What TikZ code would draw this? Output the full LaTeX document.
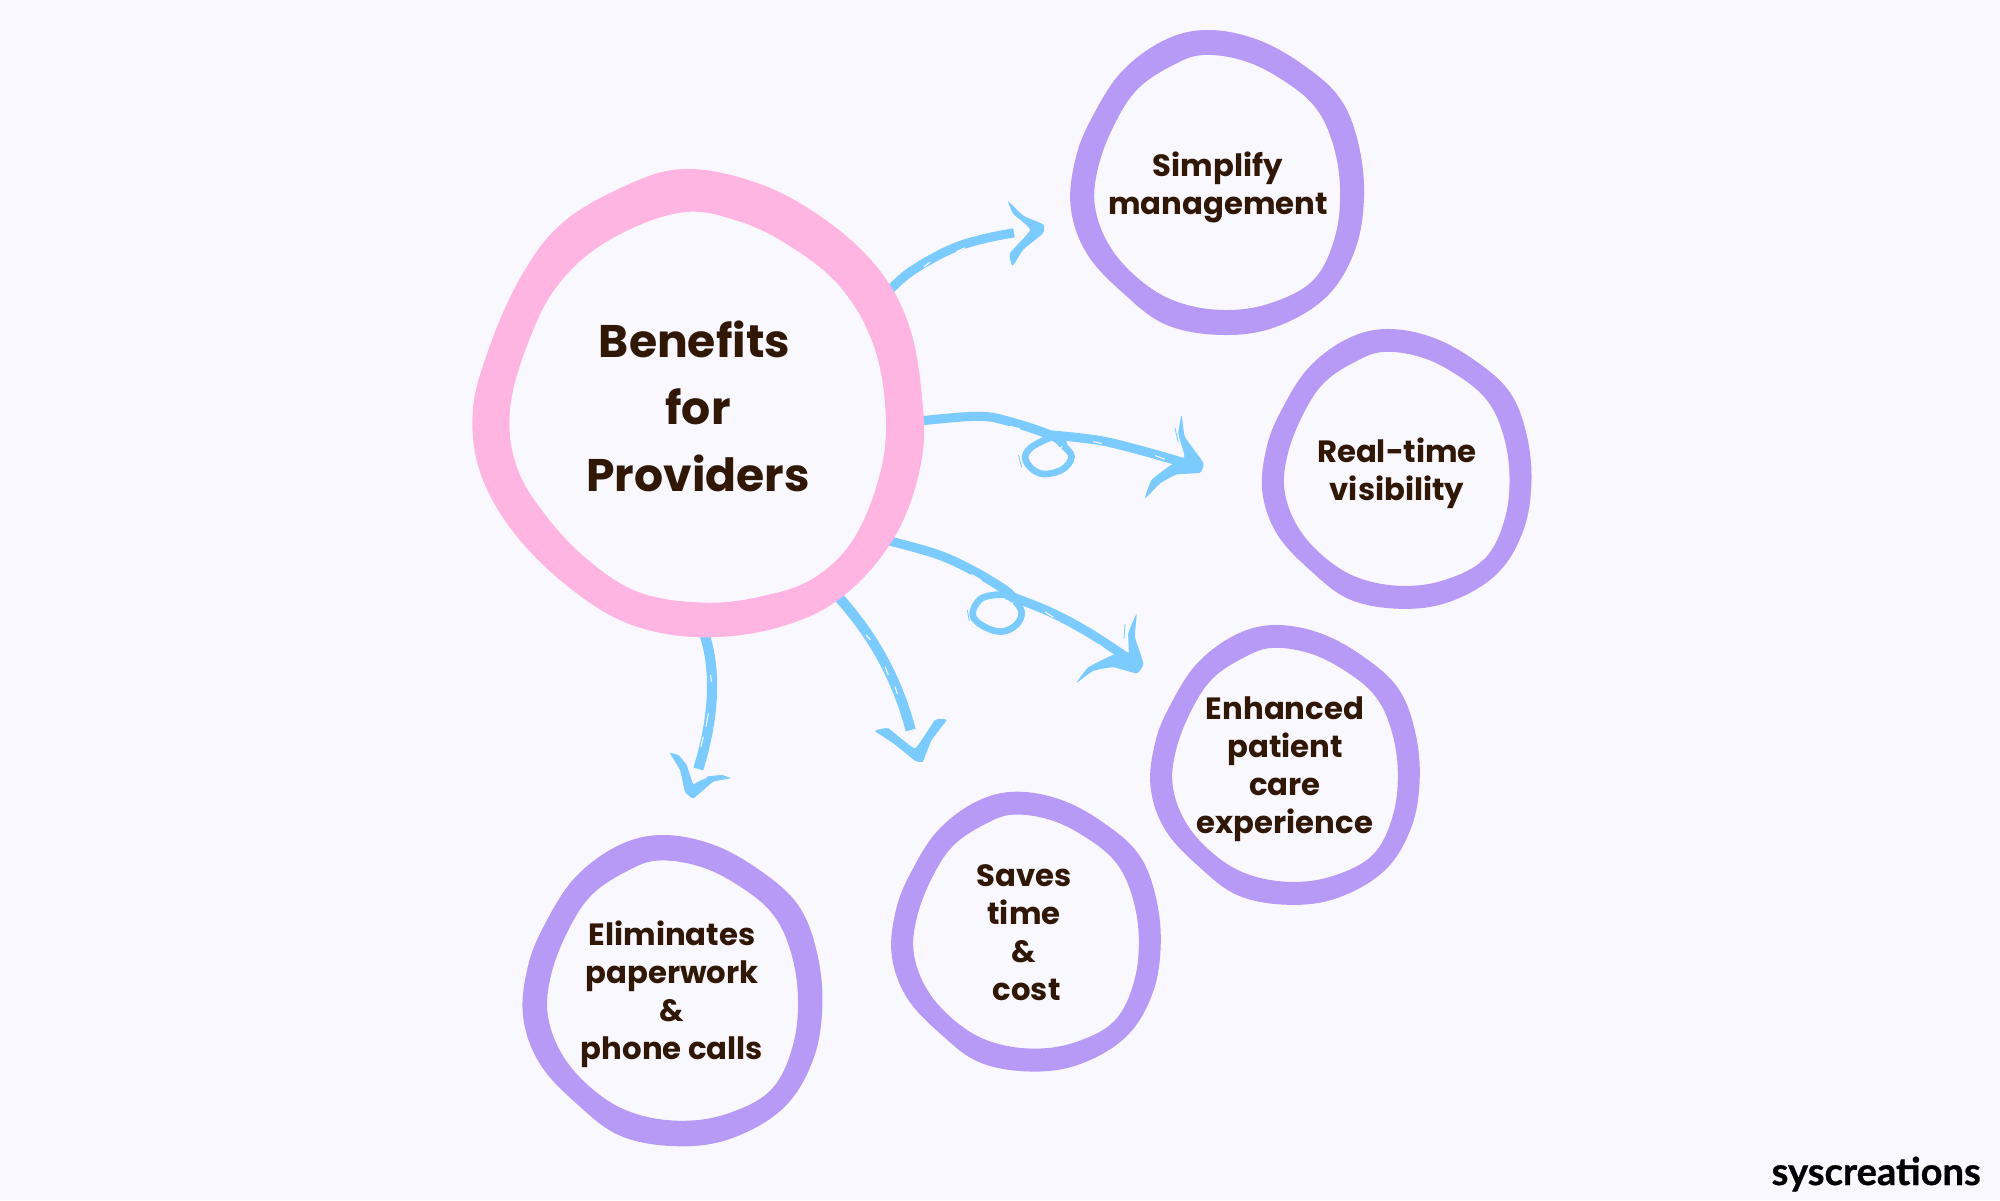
\documentclass[tikz,border=0pt]{standalone}
\usepackage{fontspec}
\newfontfamily\popfont{Poppins}
\newfontfamily\logofont{Lato}[BoldFeatures={FakeBold=0.8}]
\definecolor{bgc}{HTML}{FAF8FF}
\definecolor{pinkc}{HTML}{FFB5E2}
\definecolor{purpc}{HTML}{B799F6}
\definecolor{bluec}{HTML}{7BCBFF}
\definecolor{inkc}{HTML}{301706}
\tikzset{
  big/.style={font=\popfont\bfseries\fontsize{26}{38}\selectfont,text=inkc,align=center,inner sep=0pt},
  small/.style={font=\popfont\bfseries\fontsize{17.5}{21.6}\selectfont,text=inkc,align=center,inner sep=0pt},
  shaft/.style={draw=bluec,line width=5.2pt,line join=round},
  wideshaft/.style={draw=bluec,line width=5.8pt,line join=round},
  loopline/.style={draw=bluec,line width=3.8pt,line join=round},
  head/.style={fill=bluec},
  streak/.style={draw=bgc,line width=0.6pt},
  fleck/.style={draw=bluec,line width=0.5pt},
  zb/.style={shift={(850,180)},x=0.006667cm,y=-0.007143cm},
  zc/.style={shift={(640,570)},x=0.006667cm,y=-0.006667cm},
  zd/.style={shift={(650,720)},x=0.006667cm,y=-0.006667cm},
  hubnode/.style={circle,minimum size=8.6cm,inner sep=0pt},
  blobline/.style={smooth cycle,tension=0.62}
}
\newcommand{\purpblob}[3]{%
\begin{scope}[shift={(#1,#2)},x=#3cm,y=-#3cm]
\fill[purpc,even odd rule]
 plot[blobline] coordinates {(470,30)(620,58)(760,135)(870,235)(925,370)(942,530)(915,690)(830,830)(680,920)(520,945)(350,915)(220,820)(110,700)(62,560)(78,410)(130,285)(215,155)(340,62)}
 plot[blobline] coordinates {(460,105)(580,122)(690,175)(790,255)(845,360)(870,500)(855,650)(790,780)(660,850)(520,870)(380,845)(270,780)(180,680)(135,560)(145,440)(195,310)(265,205)(370,135)};
\end{scope}}
\begin{document}
\begin{tikzpicture}[x=0.02cm,y=-0.02cm]
\useasboundingbox (0,0) rectangle (2000,1200);
\fill[bgc] (0,0) rectangle (2000,1200);

\node[hubnode] (hub) at (698,403) {};

% arrow 1
\begin{scope}[zb]
\coordinate (tipa) at (492,148);
\draw[shaft] plot[smooth,tension=0.6] coordinates {(hub.30)(180,258)(300,195)(400,165)(tipa)};
\fill[head] plot[smooth cycle,tension=0.3] coordinates {(475,60)(520,100)(580,125)(578,150)(520,195)(488,240)(480,205)(540,140)(490,95)};
\draw[streak] (222,243)--(240,230) (320,200)--(345,190) (500,118)--(525,135);
\end{scope}

% arrow 2
\begin{scope}[zb]
\coordinate (crossb) at (610,718);
\coordinate (turnb) at (640,745);
\coordinate (tipb) at (1030,800);
\draw[loopline] plot[smooth,tension=0.65] coordinates {(turnb)(665,775)(635,812)(570,822)(527,785)(545,748)(620,714)};
\draw[shaft] plot[smooth,tension=0.6] coordinates {(hub.-5)(380,662)(480,677)(crossb)(turnb)};
\draw[shaft] plot[smooth,tension=0.6] coordinates {(600,714)(750,730)(890,762)(tipb)};
\fill[head] plot[smooth cycle,tension=0.25] coordinates {(995,660)(1005,720)(1060,792)(1050,820)(980,825)(930,850)(885,892)(905,840)(960,800)(1003,775)(985,710)};
\draw[streak] (480,690)--(510,697) (730,733)--(755,738) (915,772)--(945,782);
\draw[fleck] (975,695)--(985,735) (505,770)--(515,805);
\end{scope}

% arrow 3
\begin{scope}[zb]
\coordinate (crossc) at (470,1152);
\coordinate (turnc) at (495,1180);
\coordinate (tipc) at (850,1350);
\draw[loopline] plot[smooth,tension=0.65] coordinates {(turnc)(515,1210)(500,1245)(455,1265)(400,1250)(368,1218)(390,1175)(440,1162)(490,1165)};
\draw[shaft] plot[smooth,tension=0.6] coordinates {(hub.-38)(250,1045)(370,1095)(crossc)(turnc)};
\draw[shaft] plot[smooth,tension=0.6] coordinates {(470,1162)(600,1210)(720,1270)(tipc)};
\fill[head] plot[smooth cycle,tension=0.25] coordinates {(860,1215)(855,1280)(880,1355)(860,1382)(790,1365)(730,1375)(680,1408)(715,1365)(790,1330)(835,1325)(835,1270)};
\draw[streak] (365,1105)--(395,1122) (585,1210)--(610,1225) (745,1300)--(765,1315);
\draw[fleck] (825,1245)--(822,1285) (352,1205)--(358,1235);
\end{scope}

% arrow 4
\begin{scope}[zc]
\coordinate (tipd) at (812,480);
\draw[wideshaft] (hub.-55) .. controls (690,170) and (770,320) .. (tipd);
\fill[head] plot[smooth cycle,tension=0.2] coordinates {(705,483)(745,475)(825,535)(885,450)(920,450)(875,510)(848,575)(825,572)(760,520)};
\draw[streak] (678,195)--(692,210) (735,290)--(745,315) (765,350)--(772,372) (850,495)--(825,525);
\end{scope}

% arrow 5
\begin{scope}[zc]
\coordinate (tipe) at (175,597);
\draw[wideshaft] (hub.-90) .. controls (225,250) and (235,400) .. (tipe);
\draw[streak] (212,315)--(214,335) (205,430)--(198,470) (190,500)--(183,530);
\end{scope}
\begin{scope}[zd]
\fill[head] plot[smooth cycle,tension=0.2] coordinates {(60,100)(85,105)(110,135)(130,192)(170,170)(215,165)(242,175)(190,185)(130,235)(105,215)(90,150)};
\draw[streak] (135,185)--(170,172);
\end{scope}

% pink ring
\begin{scope}[shift={(450,150)},x=0.006667cm,y=-0.006667cm]
\fill[pinkc,even odd rule]
 plot[blobline] coordinates {(700,57)(925,100)(1120,205)(1280,350)(1375,520)(1415,730)(1415,930)(1340,1150)(1190,1330)(1010,1425)(780,1462)(560,1430)(380,1330)(205,1165)(95,980)(68,790)(115,600)(210,385)(330,225)(510,115)}
 plot[blobline] coordinates {(690,188)(870,215)(1030,295)(1170,410)(1265,570)(1305,760)(1295,950)(1215,1160)(1090,1285)(930,1340)(760,1358)(570,1328)(420,1235)(290,1100)(200,950)(180,780)(230,590)(320,410)(470,275)};
\end{scope}

% purple rings
\purpblob{1050}{20}{0.006667}
\purpblob{1243.3}{319.8}{0.006122}
\purpblob{1131.6}{615.8}{0.006122}
\purpblob{872.6}{782.5}{0.006122}
\purpblob{501.9}{824.8}{0.0068}

% labels
\node[big] (title) at (698,406.5) {Benefits\hspace*{4pt}\\for\\Providers};
\node[small] (simplify) at (1218,187) {Simplify\\management};
\node[small] (realtime) at (1397,473) {Real-time\\visibility};
\node[small] (enhanced) at (1285,769) {Enhanced\\patient\hspace*{2pt}\\care\\experience};
\node[small] (saves) at (1024,932.5) {Saves\\time\\\&\\\hspace*{3pt}cost};
\node[small] (elim) at (672,994) {Eliminates\\paperwork\\\&\hspace*{4pt}\\phone calls};
\node[font=\logofont\bfseries\fontsize{21.7}{24}\selectfont,text=black,inner sep=0pt,anchor=base east] (logo) at (1981,1185) {syscreations};
\end{tikzpicture}
\end{document}
